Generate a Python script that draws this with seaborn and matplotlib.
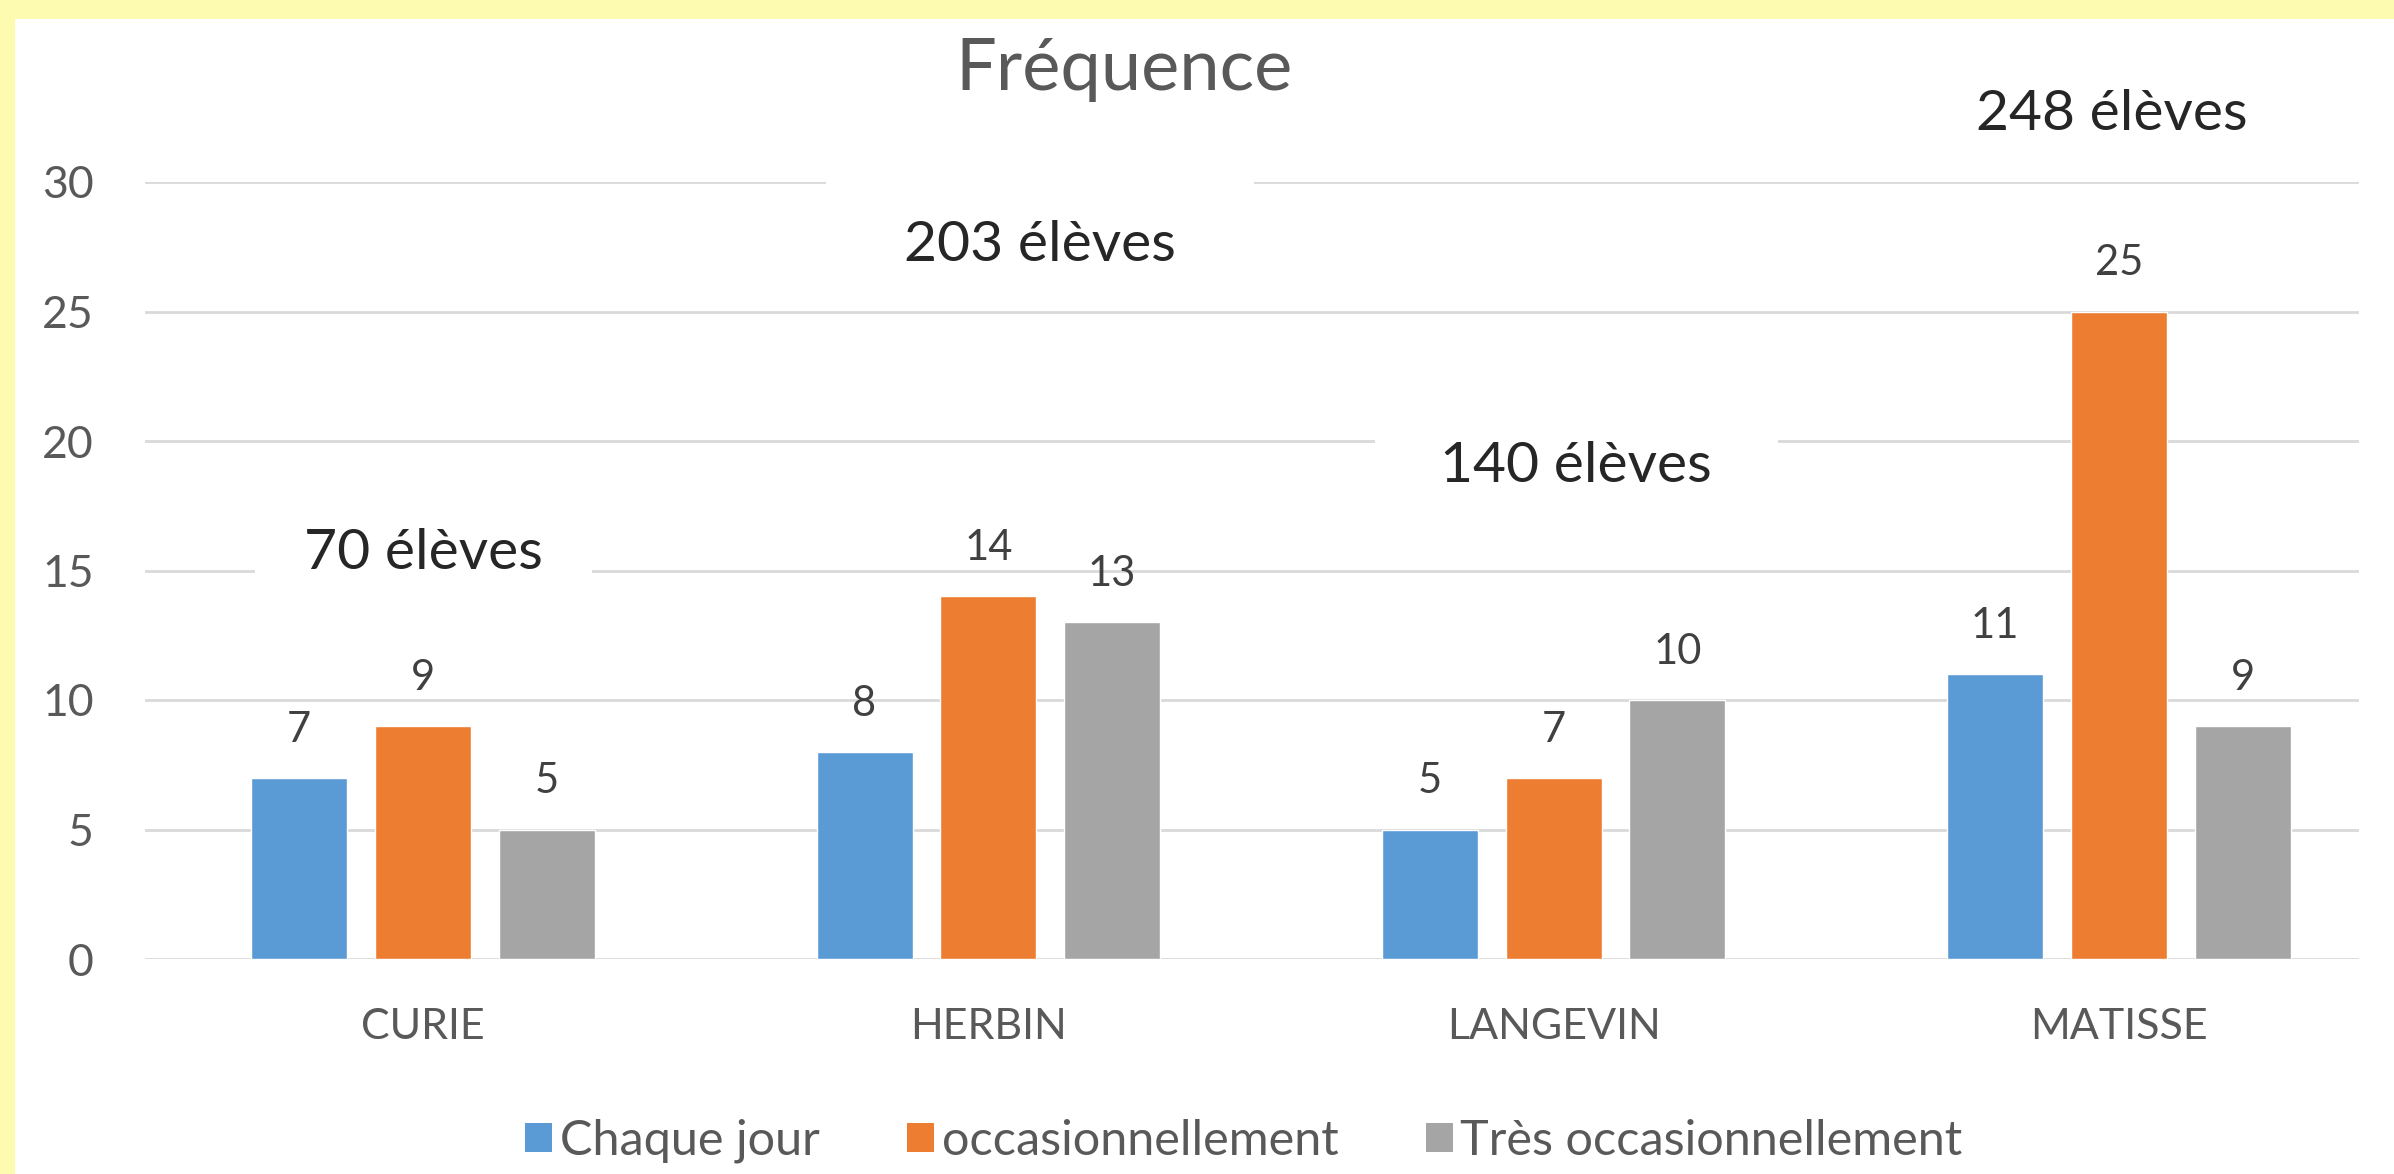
import numpy as np
import pandas as pd
import matplotlib
matplotlib.use("Agg")
import matplotlib.pyplot as plt
from matplotlib.patches import Rectangle, Patch
from matplotlib.path import Path
import seaborn as sns

# data
lycees = ["CURIE", "HERBIN", "LANGEVIN", "MATISSE"]
frequences = ["Chaque jour", "occasionnellement", "Très occasionnellement"]
chaque_jour = [7, 8, 5, 11]
occasionnellement = [9, 14, 7, 25]
tres_occasionnellement = [5, 13, 10, 9]
effectifs = ["70 élèves", "203 élèves", "140 élèves", "248 élèves"]
effectif_x = [0.0, 1.091, 2.04, 2.988]
effectif_y = [15.64, 27.55, 19.0, 32.6]
couleurs = ["#5B9BD5", "#ED7D31", "#A5A5A5"]

df = pd.DataFrame({
    "lycee": lycees * 3,
    "frequence": np.repeat(frequences, len(lycees)),
    "valeur": chaque_jour + occasionnellement + tres_occasionnellement,
})


def masque(padx, pady):
    # white box behind a label, with separate horizontal / vertical padding
    def style(x0, y0, width, height, mutation_size):
        px, py = padx * mutation_size, pady * mutation_size
        a, b, c, d = x0 - px, y0 - py, x0 + width + px, y0 + height + py
        return Path([(a, b), (c, b), (c, d), (a, d), (a, b)], closed=True)
    return style


sns.set_style("white")
plt.rcParams["font.family"] = ["Lato", "DejaVu Sans"]

fig = plt.figure(figsize=(23.94, 11.74), dpi=100)
fig.patch.set_facecolor("#FDFBB0")
# white sheet inside the yellow frame (top and left border only)
fig.patches.append(Rectangle((15 / 2394, 0), 1, 1 - 19 / 1174,
                             transform=fig.transFigure, facecolor="white",
                             edgecolor="none", zorder=-5))

ax = fig.add_axes([145 / 2394, 1 - 959 / 1174, (2359 - 145) / 2394, (959 - 182) / 1174])
ax.set_facecolor("none")

sns.barplot(data=df, x="lycee", y="valeur", hue="frequence", hue_order=frequences,
            palette=couleurs, width=0.657, gap=0.224, saturation=1, ax=ax)

for cont in ax.containers:
    ax.bar_label(cont, padding=21, fontsize=30, color="#404040")

ax.set_ylim(0, 30)
ax.set_xlim(-0.492, 3.425)
ax.set_yticks([0, 5, 10, 15, 20, 25, 30])
ax.yaxis.grid(True, color="#D9D9D9", linewidth=2)
ax.set_axisbelow(True)
for s in ax.spines.values():
    s.set_visible(False)
ax.tick_params(axis="y", length=0, pad=37, labelsize=32, labelcolor="#595959")
ax.tick_params(axis="x", length=0, pad=35, labelsize=31, labelcolor="#595959")
ax.set_xlabel("")
ax.set_ylabel("")

pads_x = [0.86, 1.37, 1.15, 0.7]
pads_y = [0.55, 0.68, 0.55, 0.55]
for txt, x, y, px, py in zip(effectifs, effectif_x, effectif_y, pads_x, pads_y):
    ax.text(x, y, txt, ha="center", va="center", fontsize=41, color="#262626",
            bbox=dict(boxstyle=masque(px, py), facecolor="white", edgecolor="none"))

fig.text(1124 / 2394, 1 - 69 / 1174, "Fréquence", ha="center", va="center",
         fontsize=52, color="#595959")

ax.get_legend().remove()
handles = [Patch(facecolor=c, edgecolor="none") for c in couleurs]
ax.legend(handles, frequences, loc="center", bbox_to_anchor=(1244 / 2394, 0.028),
          bbox_transform=fig.transFigure, ncol=3, frameon=False, fontsize=35,
          handlelength=0.55, handleheight=0.55, handletextpad=0.16, columnspacing=1.8,
          labelcolor="#595959", borderpad=0, borderaxespad=0)

plt.savefig("out.png", dpi=100, facecolor=fig.get_facecolor())
